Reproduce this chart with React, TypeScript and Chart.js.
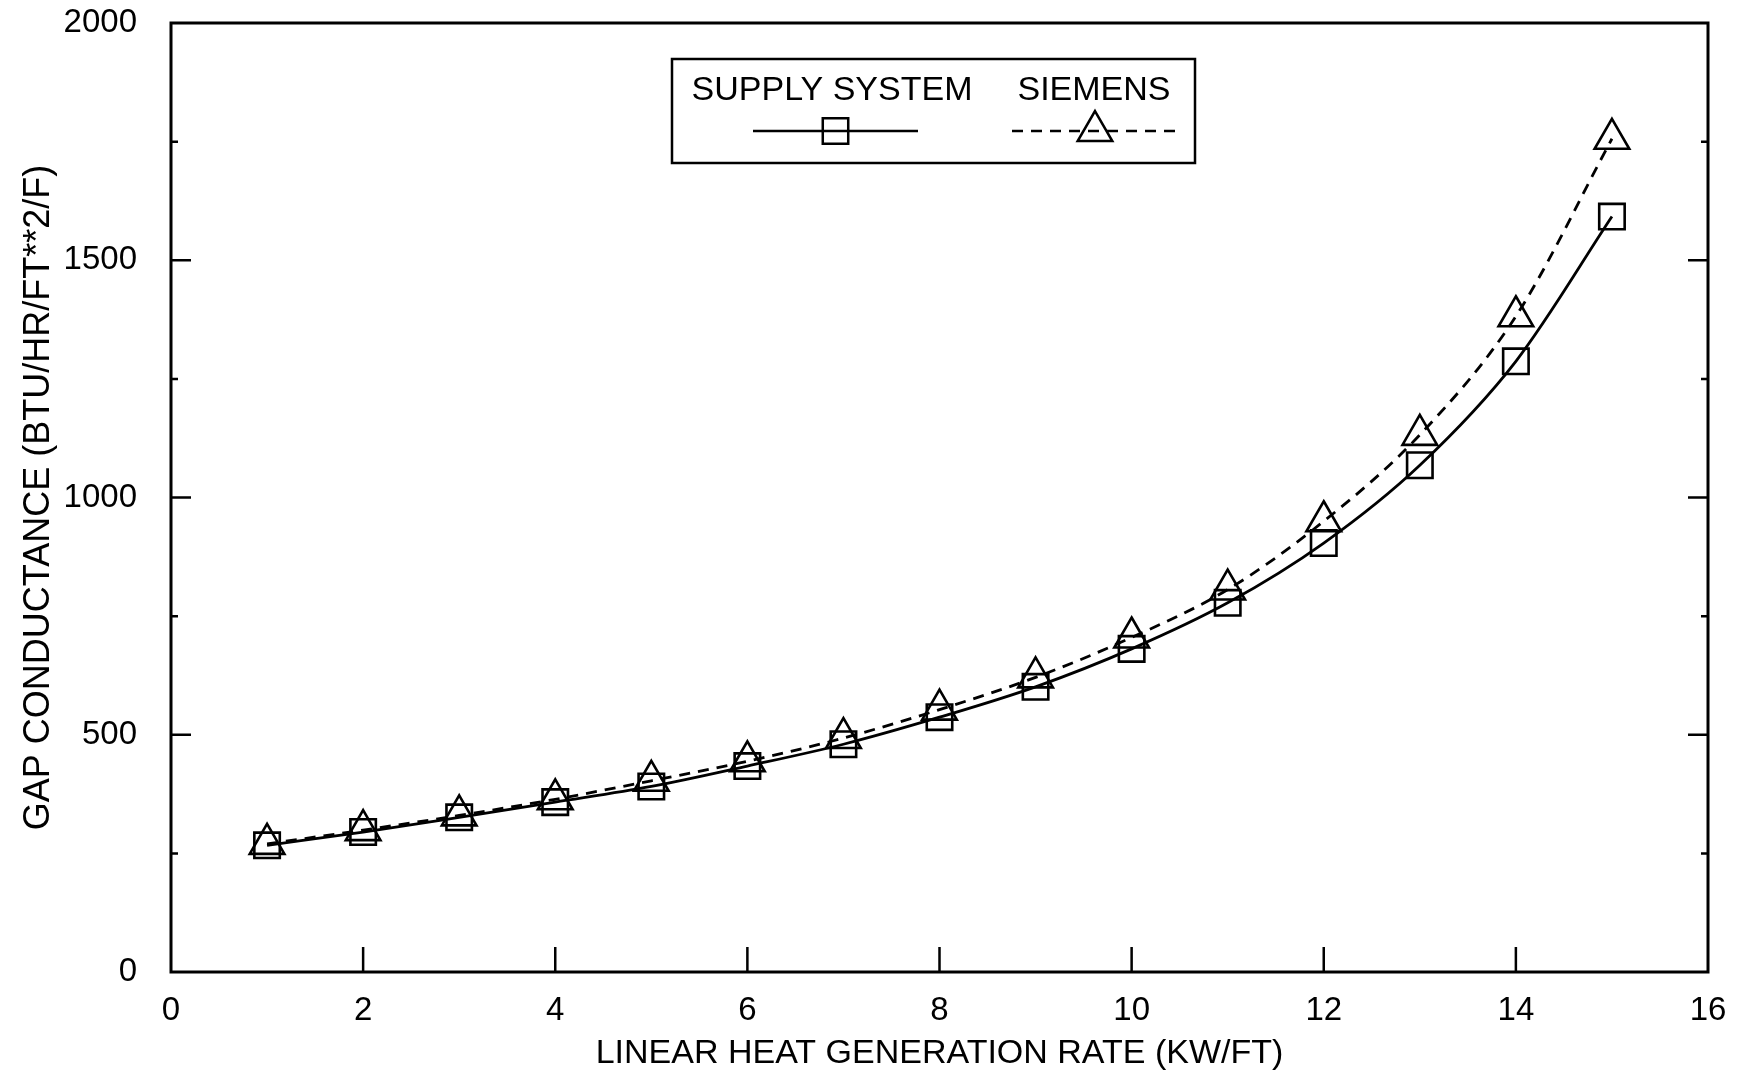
import { useEffect, useRef } from "react";
import { Chart, registerables } from "chart.js";

Chart.register(...registerables);

const heatRate = [1, 2, 3, 4, 5, 6, 7, 8, 9, 10, 11, 12, 13, 14, 15];
const supplySystem = [267, 295, 326, 358, 391, 434, 480, 537, 601, 681, 778, 904, 1068, 1287, 1592];
const siemens = [270, 299, 330, 364, 403, 444, 493, 553, 621, 705, 806, 950, 1132, 1382, 1756];
const xTickValues = [0, 2, 4, 6, 8, 10, 12, 14, 16];
const yMajorTicks = [0, 500, 1000, 1500, 2000];
const yMinorTicks = [250, 750, 1250, 1750];
const seriesNames = ["SUPPLY SYSTEM", "SIEMENS"];

const FONT = "'Liberation Sans', Arial, Helvetica, sans-serif";

const framePlugin = {
  id: "frameAndTicks",
  afterDatasetsDraw(chart: any) {
    const { ctx, chartArea, scales } = chart;
    const xs = scales.x;
    const ys = scales.y;
    ctx.save();
    ctx.strokeStyle = "#000";
    ctx.lineWidth = 3;
    ctx.strokeRect(chartArea.left, chartArea.top, chartArea.right - chartArea.left, chartArea.bottom - chartArea.top);
    ctx.lineWidth = 2.5;
    ctx.beginPath();
    xTickValues.slice(1, -1).forEach((v) => {
      const px = xs.getPixelForValue(v);
      ctx.moveTo(px, chartArea.bottom);
      ctx.lineTo(px, chartArea.bottom - 25);
    });
    yMajorTicks.slice(1, -1).forEach((v) => {
      const py = ys.getPixelForValue(v);
      ctx.moveTo(chartArea.left, py);
      ctx.lineTo(chartArea.left + 20, py);
      ctx.moveTo(chartArea.right, py);
      ctx.lineTo(chartArea.right - 20, py);
    });
    yMinorTicks.forEach((v) => {
      const py = ys.getPixelForValue(v);
      ctx.moveTo(chartArea.left, py);
      ctx.lineTo(chartArea.left + 7, py);
      ctx.moveTo(chartArea.right, py);
      ctx.lineTo(chartArea.right - 7, py);
    });
    ctx.stroke();
    ctx.restore();
  },
};

function drawMarker(ctx: CanvasRenderingContext2D, style: string, r: number, x: number, y: number) {
  ctx.beginPath();
  if (style === "rect") {
    const s = Math.SQRT1_2 * r;
    ctx.rect(x - s, y - s, 2 * s, 2 * s);
  } else {
    let rad = 0;
    ctx.moveTo(x + Math.sin(rad) * r, y - Math.cos(rad) * r);
    rad += (2 * Math.PI) / 3;
    ctx.lineTo(x + Math.sin(rad) * r, y - Math.cos(rad) * r);
    rad += (2 * Math.PI) / 3;
    ctx.lineTo(x + Math.sin(rad) * r, y - Math.cos(rad) * r);
    ctx.closePath();
  }
  ctx.stroke();
}

const legendPlugin = {
  id: "boxLegend",
  afterDraw(chart: any) {
    const { ctx } = chart;
    const box = { x: 672, y: 59, w: 523, h: 104 };
    ctx.save();
    ctx.fillStyle = "#fff";
    ctx.fillRect(box.x, box.y, box.w, box.h);
    ctx.strokeStyle = "#000";
    ctx.lineWidth = 2.5;
    ctx.strokeRect(box.x, box.y, box.w, box.h);
    ctx.fillStyle = "#000";
    ctx.font = `34px ${FONT}`;
    ctx.textBaseline = "middle";
    ctx.textAlign = "center";
    const entries = [
      { text: seriesNames[0], cx: 832, x1: 753, x2: 918, dash: [] as number[], ds: 0 },
      { text: seriesNames[1], cx: 1094, x1: 1012, x2: 1178, dash: [11, 8], ds: 1 },
    ];
    entries.forEach((e) => {
      ctx.fillText(e.text, e.cx, 91);
      const ds = chart.data.datasets[e.ds];
      ctx.lineWidth = 2.5;
      ctx.setLineDash(e.dash);
      ctx.beginPath();
      ctx.moveTo(e.x1, 131);
      ctx.lineTo(e.x2, 131);
      ctx.stroke();
      ctx.setLineDash([]);
      ctx.fillStyle = "#fff";
      drawMarker(ctx, ds.pointStyle, ds.pointRadius, (e.x1 + e.x2) / 2, 131);
      ctx.fillStyle = "#000";
    });
    ctx.restore();
  },
};

export default function App() {
  const canvasRef = useRef<HTMLCanvasElement | null>(null);

  useEffect(() => {
    if (!canvasRef.current) return;
    const chart = new Chart(canvasRef.current, {
      type: "line",
      data: {
        datasets: [
          {
            label: seriesNames[0],
            data: heatRate.map((x, i) => ({ x, y: supplySystem[i] })),
            borderColor: "#000",
            borderWidth: 2.8,
            pointStyle: "rect",
            pointRadius: 18,
            pointBorderWidth: 2.6,
            pointBorderColor: "#000",
            pointBackgroundColor: "rgba(0,0,0,0)",
            cubicInterpolationMode: "monotone",
            fill: false,
          },
          {
            label: seriesNames[1],
            data: heatRate.map((x, i) => ({ x, y: siemens[i] })),
            borderColor: "#000",
            borderWidth: 2.8,
            borderDash: [11, 8],
            pointStyle: "triangle",
            pointRadius: 20,
            pointBorderWidth: 2.6,
            pointBorderColor: "#000",
            pointBackgroundColor: "rgba(0,0,0,0)",
            cubicInterpolationMode: "monotone",
            fill: false,
          },
        ],
      },
      options: {
        animation: false,
        responsive: false,
        maintainAspectRatio: false,
        layout: { padding: { top: 23, right: 35, left: 0, bottom: 0 } },
        plugins: {
          legend: { display: false },
          tooltip: { enabled: false },
        },
        scales: {
          x: {
            type: "linear",
            min: 0,
            max: 16,
            afterBuildTicks: (scale: any) => {
              scale.ticks = xTickValues.map((v) => ({ value: v }));
            },
            afterFit: (scale: any) => {
              scale.height = 104;
              scale.paddingLeft = 0;
              scale.paddingRight = 0;
            },
            grid: { display: false, drawTicks: false },
            border: { display: false },
            ticks: {
              color: "#000",
              font: { family: FONT, size: 33 },
              padding: 19,
              maxRotation: 0,
              callback: (v: any) => String(v),
            },
            title: {
              display: true,
              text: "LINEAR HEAT GENERATION RATE (KW/FT)",
              color: "#000",
              font: { family: FONT, size: 34 },
              padding: { top: 0, bottom: 2 },
            },
          },
          y: {
            type: "linear",
            min: 0,
            max: 2000,
            afterBuildTicks: (scale: any) => {
              scale.ticks = yMajorTicks.map((v) => ({ value: v }));
            },
            afterFit: (scale: any) => {
              scale.width = 171;
              scale.paddingTop = 0;
              scale.paddingBottom = 0;
            },
            grid: { display: false, drawTicks: false },
            border: { display: false },
            ticks: {
              color: "#000",
              font: { family: FONT, size: 33 },
              padding: 34,
              callback: (v: any) => String(v),
            },
            title: {
              display: true,
              text: "GAP CONDUCTANCE (BTU/HR/FT**2/F)",
              color: "#000",
              font: { family: FONT, size: 36 },
              padding: { top: 17, bottom: 0 },
            },
          },
        },
      },
      plugins: [framePlugin, legendPlugin],
    } as any);
    return () => chart.destroy();
  }, []);

  return (
    <div style={{ position: "fixed", left: 0, top: 0, width: 1743, height: 1076, background: "#fff" }}>
      <canvas ref={canvasRef} width={1743} height={1076} style={{ width: 1743, height: 1076, display: "block" }} />
    </div>
  );
}
